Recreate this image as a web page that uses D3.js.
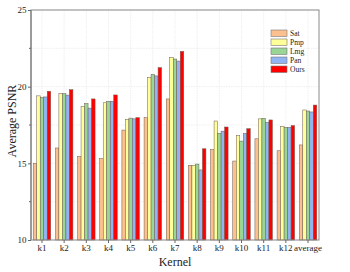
<!DOCTYPE html>
<html>
<head>
<meta charset="utf-8">
<script src="https://cdn.jsdelivr.net/npm/d3@7"></script>
<style>
  body { margin: 0; background: #fff; }
  text { font-family: "Liberation Serif", "DejaVu Serif", serif; }
</style>
</head>
<body>
<svg id="chart" width="350" height="272"></svg>
<script>
// chart data
const kernels = ["k1", "k2", "k3", "k4", "k5", "k6", "k7", "k8", "k9", "k10", "k11", "k12", "average"];
const methods = ["Sat", "Pmp", "Lmg", "Pan", "Ours"];
const satVals  = [15.0, 16.0, 15.45, 15.3, 17.17, 17.98, 19.2, 14.87, 15.9, 15.15, 16.6, 15.82, 16.2];
const pmpVals  = [19.4, 19.55, 18.7, 18.95, 17.87, 20.6, 21.9, 14.87, 17.76, 16.8, 17.9, 17.4, 18.48];
const lmgVals  = [19.3, 19.55, 18.9, 19.05, 17.95, 20.8, 21.8, 14.95, 16.95, 16.45, 17.93, 17.35, 18.41];
const panVals  = [19.33, 19.45, 18.6, 19.05, 17.9, 20.7, 21.67, 14.57, 17.1, 16.95, 17.67, 17.35, 18.35];
const oursVals = [19.7, 19.8, 19.2, 19.46, 17.98, 21.24, 22.3, 15.95, 17.37, 17.26, 17.83, 17.46, 18.8];
const yTicks = [10, 15, 20, 25];
const yMinor = [12.5, 17.5, 22.5];

const colors = ["#fcc08f", "#ffff99", "#99d594", "#91b4f2", "#ff0000"];
const series = [satVals, pmpVals, lmgVals, panVals, oursVals];

const svg = d3.select("#chart");
const m = {left: 31, top: 10, right: 319, bottom: 240};

const x = d3.scaleBand().domain(kernels).range([m.left, m.right]).paddingInner(0.21).paddingOuter(0.1);
const xs = d3.scaleBand().domain(methods).range([0, x.bandwidth()]);
const y = d3.scaleLinear().domain([10, 25]).range([m.bottom, m.top]);

// grid
const grid = svg.append("g");
grid.selectAll(".hg").data(yTicks.concat(yMinor)).enter().append("line")
  .attr("x1", m.left).attr("x2", m.right)
  .attr("y1", d => y(d)).attr("y2", d => y(d))
  .attr("stroke", "#e4e4e4").attr("stroke-width", 0.6).attr("stroke-dasharray", "1.5,1");
grid.selectAll(".vg").data(kernels).enter().append("line")
  .attr("x1", d => x(d) + x.bandwidth() / 2).attr("x2", d => x(d) + x.bandwidth() / 2)
  .attr("y1", m.top).attr("y2", m.bottom)
  .attr("stroke", "#e4e4e4").attr("stroke-width", 0.6).attr("stroke-dasharray", "1.5,1");

// bars
series.forEach((vals, si) => {
  svg.append("g").selectAll("rect").data(vals).enter().append("rect")
    .attr("x", (d, i) => x(kernels[i]) + xs(methods[si]))
    .attr("y", d => y(d))
    .attr("width", xs.bandwidth())
    .attr("height", d => y(10) - y(d))
    .attr("fill", colors[si])
    .attr("stroke", "#6e5a50")
    .attr("stroke-width", 0.5);
});

// frame
svg.append("rect")
  .attr("x", m.left).attr("y", m.top)
  .attr("width", m.right - m.left).attr("height", m.bottom - m.top)
  .attr("fill", "none").attr("stroke", "#8a8a8a").attr("stroke-width", 1);
svg.append("line").attr("x1", m.left).attr("x2", m.left).attr("y1", m.top).attr("y2", m.bottom)
  .attr("stroke", "#9a9a9a").attr("stroke-width", 2);

// y axis
const yAxis = svg.append("g").attr("transform", `translate(${m.left},0)`)
  .call(d3.axisLeft(y).tickValues(yTicks).tickSize(3).tickPadding(1.5).tickFormat(d3.format("d")));
yAxis.select(".domain").remove();
yAxis.selectAll("line").attr("stroke", "#666");
yAxis.selectAll("text").attr("font-size", 9).attr("fill", "#222");
svg.append("g").selectAll("line").data(yMinor).enter().append("line")
  .attr("x1", m.left - 2).attr("x2", m.left)
  .attr("y1", d => y(d)).attr("y2", d => y(d)).attr("stroke", "#666");

// x axis
const xAxis = svg.append("g").attr("transform", `translate(0,${m.bottom})`)
  .call(d3.axisBottom(x).tickSize(3).tickPadding(2));
xAxis.select(".domain").remove();
xAxis.selectAll("line").attr("stroke", "#666");
xAxis.selectAll("text").attr("font-size", 9).attr("fill", "#222");

// labels
svg.append("text").attr("x", 175).attr("y", 266).attr("text-anchor", "middle")
  .attr("font-size", 12).attr("fill", "#222").text("Kernel");
svg.append("text").attr("transform", "translate(16,121) rotate(-90)").attr("text-anchor", "middle")
  .attr("font-size", 12).attr("fill", "#222").text("Average PSNR");

// legend
const lg = svg.append("g").attr("transform", "translate(271,30)");
methods.forEach((name, i) => {
  lg.append("rect").attr("x", 0).attr("y", i * 9).attr("width", 16).attr("height", 6.5)
    .attr("fill", colors[i]).attr("stroke", "#777").attr("stroke-width", 0.6);
  lg.append("text").attr("x", 19).attr("y", i * 9 + 6).attr("font-size", 7.5)
    .attr("fill", "#222").text(name);
});
</script>
</body>
</html>
